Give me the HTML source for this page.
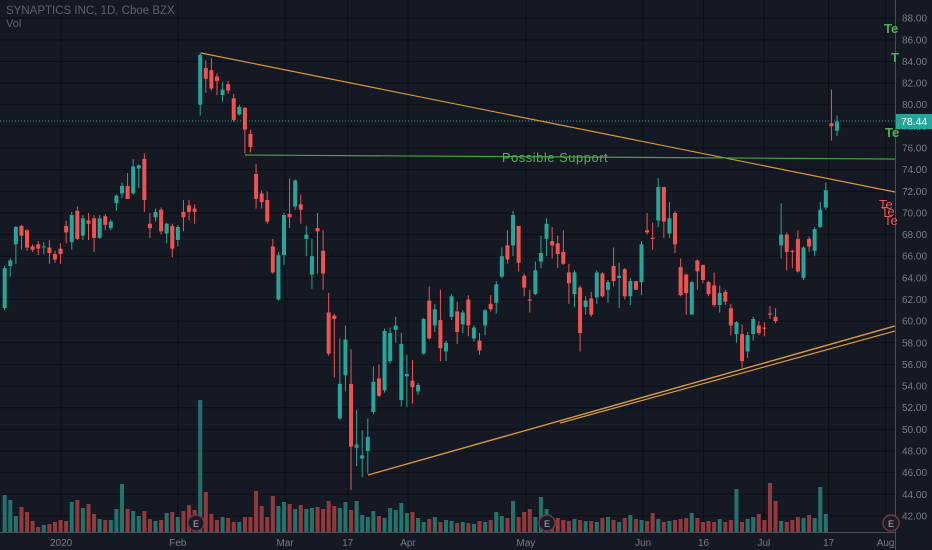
<!DOCTYPE html>
<html><head><meta charset="utf-8"><style>
html,body{margin:0;padding:0;background:#151924;}
svg{display:block;font-family:"Liberation Sans",sans-serif;}
</style></head><body>
<svg id="chart" width="932" height="550" viewBox="0 0 932 550" xmlns="http://www.w3.org/2000/svg">
<rect x="0" y="0" width="932" height="550" fill="#151924"/>
<g id="grid"></g>
<g id="vol"></g>
<g id="candles"></g>
<line x1="0" y1="121" x2="895" y2="121" stroke="#26a69a" stroke-width="1" stroke-dasharray="1,2"/>
<line x1="201" y1="53" x2="895" y2="192" stroke="#d89a35" stroke-width="1.2"/>
<line x1="245" y1="155" x2="895" y2="159" stroke="#3fa63a" stroke-width="1.2"/>
<text x="555" y="162" fill="#4caf50" font-size="13" text-anchor="middle" letter-spacing="0.5">Possible Support</text>
<line x1="368" y1="475" x2="895" y2="326" stroke="#d89a35" stroke-width="1.4"/>
<line x1="560" y1="423" x2="895" y2="331" stroke="#d89a35" stroke-width="1.2"/>
<g id="axis"></g>
<g id="taxis"></g>
<text x="6" y="14" fill="#5d606b" font-size="11.5">SYNAPTICS INC, 1D, Cboe BZX</text>
<text x="6" y="27" fill="#5d606b" font-size="11">Vol</text>
<g><circle cx="196" cy="523" r="8" fill="#1c1a24" stroke="#6b3a48" stroke-width="1.5"/><text x="196" y="527" fill="#b2b5be" font-size="9" text-anchor="middle">E</text></g>
<g><circle cx="547" cy="523" r="8" fill="#1c1a24" stroke="#6b3a48" stroke-width="1.5"/><text x="547" y="527" fill="#b2b5be" font-size="9" text-anchor="middle">E</text></g>
<g><circle cx="891" cy="523" r="8" fill="#1c1a24" stroke="#6b3a48" stroke-width="1.5"/><text x="891" y="527" fill="#b2b5be" font-size="9" text-anchor="middle">E</text></g>
<text x="884" y="33" fill="#4caf50" font-size="13" font-weight="bold">Te</text>
<text x="891" y="62" fill="#4caf50" font-size="13" font-weight="bold">T</text>
<text x="885" y="137" fill="#4caf50" font-size="13" font-weight="bold">Te</text>
<text x="879" y="209" fill="#ef5350" font-size="13">Te</text>
<text x="881" y="216" fill="#ef5350" font-size="13">Te</text>
<text x="884" y="225" fill="#ef5350" font-size="13">Te</text>
<rect x="896" y="114" width="36" height="15" fill="#26a69a"/>
<text x="901" y="125" fill="#ffffff" font-size="10.5">78.44</text>
</svg>
<script>
const opens  =[61.2,65.1,67.1,68.8,68.4,66.9,67.1,66.9,66.8,66.2,66.7,68.8,67.3,70.2,67.9,69.3,69.5,67.7,69.7,68.6,70.9,71.8,72.5,71.8,74.1,75.0,69.0,69.6,70.3,68.1,68.8,67.5,70.1,70.7,70.4,80.0,83.4,83.2,82.6,80.9,81.9,80.6,79.1,79.7,77.3,73.6,71.8,71.2,66.9,62.0,66.1,69.9,70.6,70.8,67.6,64.3,68.6,66.5,60.8,60.5,51.0,55.0,54.2,48.3,47.3,48.0,51.6,54.7,53.6,56.3,59.2,52.7,54.9,54.5,53.5,57.0,61.9,59.6,60.1,57.2,60.4,60.9,59.7,62.0,58.4,58.2,59.6,61.6,61.7,64.1,67.0,67.0,68.8,64.2,62.0,62.5,65.5,67.6,67.4,67.2,66.4,64.5,62.5,63.1,61.3,62.1,62.2,64.4,62.9,65.1,64.0,64.8,62.3,63.7,63.6,68.4,67.7,69.3,72.4,68.1,70.0,65.0,64.3,60.6,65.6,65.2,63.6,63.3,61.5,62.7,61.2,58.8,58.8,57.2,58.8,59.6,59.4,60.7,60.4,67.0,68.0,66.5,67.6,64.0,67.6,66.5,68.7,70.5,78.3,77.6];
const closes =[64.9,65.6,68.7,67.9,66.8,66.6,66.7,66.9,66.3,65.7,66.2,68.2,69.8,67.6,69.5,69.0,67.7,69.5,68.9,69.2,71.6,72.5,71.3,74.3,74.4,71.2,68.6,70.1,68.3,69.0,66.7,68.7,69.6,70.1,70.1,84.6,82.4,81.5,82.2,81.4,81.3,78.6,79.8,77.7,76.1,71.3,71.0,69.2,64.5,66.1,69.8,69.6,73.0,70.3,68.0,66.0,68.3,64.4,57.0,60.2,54.2,58.3,48.4,48.6,47.6,49.3,54.4,53.1,59.1,58.9,59.6,57.9,55.1,53.9,54.1,60.2,58.4,61.1,57.5,58.0,62.3,59.0,60.8,59.6,59.4,57.3,61.0,61.1,63.4,66.0,65.7,69.8,65.4,63.1,61.9,64.7,66.3,69.0,67.0,66.2,65.3,63.5,64.5,58.9,61.9,60.6,64.5,62.3,63.6,63.7,64.2,62.3,63.7,62.9,67.1,68.2,67.6,72.4,69.2,69.5,67.1,62.4,62.6,63.6,64.6,63.8,62.5,61.5,62.6,61.8,59.6,59.9,56.3,58.7,60.2,58.9,59.3,60.6,60.0,68.0,66.4,66.4,64.6,66.8,66.9,68.5,70.3,72.1,78.0,78.44];
const highs  =[65.1,65.8,68.8,68.9,68.5,67.1,67.4,67.3,67.5,66.5,67.2,69.3,70.1,70.6,69.8,70.0,69.8,69.8,69.9,69.4,71.7,72.8,73.7,75.0,74.5,75.5,70.0,70.4,70.5,69.1,69.0,68.9,71.2,71.2,70.8,84.8,84.1,84.3,82.9,82.1,82.2,81.0,80.0,79.8,77.7,74.5,72.1,72.0,67.6,66.4,70.0,73.2,73.1,71.7,68.8,67.6,70.0,68.4,62.6,60.7,58.4,59.6,57.4,51.8,49.9,51.0,55.8,56.0,59.3,59.4,60.4,58.9,56.9,56.4,54.3,60.3,63.2,61.6,62.9,58.2,62.5,61.8,61.0,62.4,59.6,58.9,61.1,62.4,63.7,66.8,68.4,70.2,68.8,64.4,62.9,65.5,67.9,69.5,68.7,67.9,68.4,65.3,64.7,63.3,62.3,62.7,64.7,64.5,63.8,66.8,65.4,64.9,64.0,63.7,67.4,70.0,69.1,73.2,72.4,71.0,70.2,65.8,64.4,63.7,65.7,65.2,63.7,64.5,63.3,62.9,61.6,60.0,59.7,59.0,60.4,60.0,59.9,61.4,61.2,70.9,68.2,66.6,68.4,66.9,67.8,68.7,71.0,72.8,81.4,79.0];
const lows   =[61.0,64.1,65.3,66.6,66.5,66.4,66.1,66.2,65.3,65.4,65.3,67.2,66.6,67.5,67.5,67.5,66.4,67.6,68.4,68.4,70.2,71.4,71.3,71.7,72.3,70.1,67.7,69.2,68.0,67.2,65.9,66.9,68.3,69.3,69.0,79.0,81.1,81.3,80.9,80.3,81.0,78.4,79.0,75.5,75.6,70.4,70.4,69.0,64.4,61.9,65.2,68.6,70.3,69.0,66.0,63.0,64.4,62.9,56.8,54.8,50.9,53.5,44.4,46.6,45.6,45.9,51.4,53.0,53.4,56.1,58.0,52.1,52.1,52.4,53.2,56.9,58.3,59.0,56.3,56.3,60.1,57.9,58.9,58.6,58.1,56.9,58.7,60.9,60.7,64.0,65.3,66.0,64.6,62.3,60.8,62.4,64.9,66.0,65.8,64.9,65.2,61.6,61.3,57.2,60.6,60.4,61.6,62.2,61.7,63.2,61.2,62.0,61.5,62.9,62.4,68.0,66.6,68.7,67.7,67.7,66.3,62.3,60.6,60.6,62.9,63.5,62.3,61.3,60.8,61.5,58.7,58.0,55.7,56.6,58.2,58.7,58.6,60.2,59.8,65.8,64.7,64.9,64.5,63.8,66.4,66.0,68.6,70.3,76.7,77.1];
const volumes=[740,640,320,500,400,220,100,140,160,200,240,220,600,640,480,560,360,260,240,240,460,960,460,420,320,420,260,220,240,380,400,300,420,540,440,2640,800,360,240,300,280,200,200,300,300,820,520,300,720,520,600,560,460,540,460,480,500,460,620,520,480,600,440,620,340,300,420,320,280,480,440,580,380,400,280,200,260,300,200,240,220,180,200,180,160,220,200,240,400,320,280,620,300,400,460,300,700,460,280,280,240,220,260,240,220,220,200,280,300,240,200,280,340,260,240,220,380,260,200,220,240,260,280,380,280,200,220,200,260,200,240,860,200,260,300,360,240,980,620,220,200,240,300,280,340,280,900,360];
const priceTicks=[88,86,84,82,80,78,76,74,72,70,68,66,64,62,60,58,56,54,52,50,48,46,44,42];
const timeLabels=["2020","Feb","Mar","17","Apr","May","Jun","16","Jul","17","Aug"];
const timeIdx=[10.1,31,50.2,61.4,72.2,93.3,114.3,125.1,135.9,147.5,157.7];

const NS="http://www.w3.org/2000/svg";
const X0=4.7, DX=5.586, PLOT_R=895;
function xs(i){return X0+i*DX;}
function ys(p){return 191.3+(72-p)*10.82;}
const VB=532, VMAX=Math.max(...volumes);
function yv(v){return VB-v/VMAX*132;}
function mk(tag,attrs,parent){const e=document.createElementNS(NS,tag);for(const k in attrs)e.setAttribute(k,attrs[k]);parent.appendChild(e);return e;}

const grid=document.getElementById('grid');
priceTicks.forEach(p=>{
  const l=mk('line',{x1:0,x2:PLOT_R,y1:ys(p),y2:ys(p),stroke:'#0c0e14','stroke-width':1},grid);
  
  
});
timeIdx.forEach(t=>{
  const l=mk('line',{x1:xs(t),x2:xs(t),y1:0,y2:532,stroke:'#0c0e14','stroke-width':1},grid);
  
  
});

const vol=document.getElementById('vol');
volumes.forEach((v,i)=>{
  const up=closes[i]>=opens[i];
  const r=mk('rect',{x:xs(i)-2,y:yv(v),width:4,height:VB-yv(v),fill:up?'#22736b':'#93393b'},vol);
  
  
});

const cg=document.getElementById('candles');
opens.forEach((o,i)=>{
  const c=closes[i],up=c>=o,col=up?'#26a69a':'#ef5350',x=xs(i);
  const g=mk('g',{},cg);
  
  
  mk('line',{x1:x,x2:x,y1:ys(highs[i]),y2:ys(lows[i]),stroke:col,'stroke-width':1},g);
  const top=ys(Math.max(o,c)),h=Math.max(1,ys(Math.min(o,c))-top);
  mk('rect',{x:x-2,y:top,width:4,height:h,fill:col},g);
});

const ax=document.getElementById('axis');
mk('rect',{x:PLOT_R,y:0,width:37,height:550,fill:'#151924'},ax);
mk('line',{x1:PLOT_R+0.5,x2:PLOT_R+0.5,y1:0,y2:550,stroke:'#4a4e59','stroke-width':1},ax);
priceTicks.forEach(p=>{
  const t=mk('text',{x:902,y:ys(p)+3.5,fill:'#787b86','font-size':10},ax);
  t.textContent=p.toFixed(2);
  
  
});
const ta=document.getElementById('taxis');
mk('line',{x1:0,x2:PLOT_R,y1:532.5,y2:532.5,stroke:'#4a4e59','stroke-width':1},ta);
timeLabels.forEach((s,k)=>{
  const t=mk('text',{x:xs(timeIdx[k]),y:546,fill:'#787b86','font-size':10,'text-anchor':'middle'},ta);
  t.textContent=s;
  
  
});
</script>
</body></html>
